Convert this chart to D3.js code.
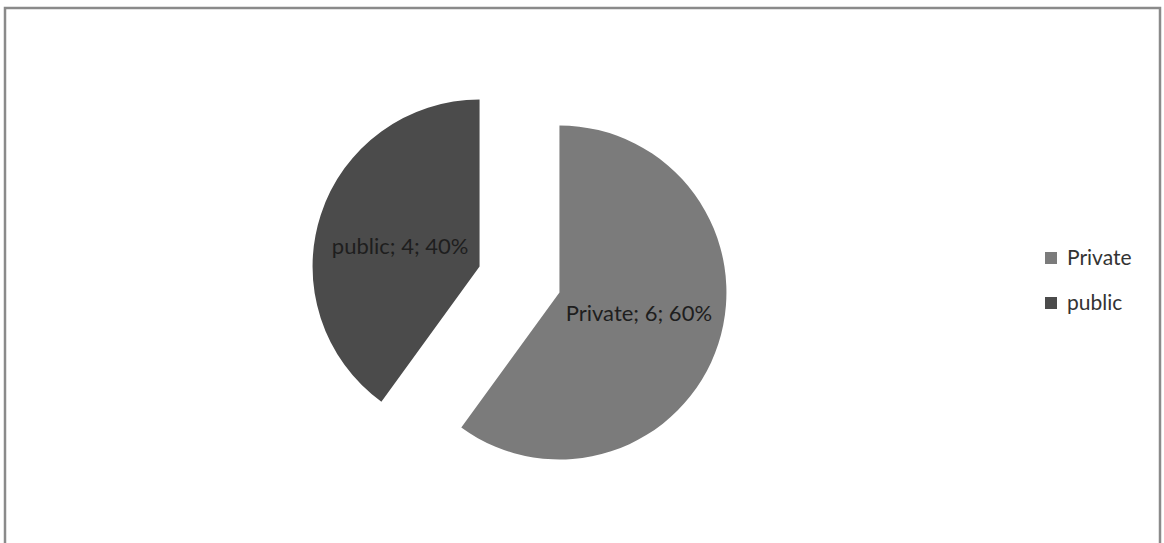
<!DOCTYPE html>
<html>
<head>
<meta charset="utf-8">
<script src="https://cdn.jsdelivr.net/npm/d3@7"></script>
<style>
  html, body { margin: 0; padding: 0; background: #fff; }
  svg { display: block; }
</style>
</head>
<body>
<svg id="chart" width="1164" height="543"></svg>
<script>
const categories = ["Private", "public"];
const values = [6, 4];
const percents = ["60%", "40%"];
const colors = ["#7b7b7b", "#4b4b4b"];

const svg = d3.select("#chart");

// frame
svg.append("rect").attr("x", 5).attr("y", 8).attr("width", 1155).attr("height", 560)
  .attr("fill", "#fff").attr("stroke", "#8a8a8a").attr("stroke-width", 2.5);

const cx = 519.5, cy = 279.5, R = 167, explode = 42;

const pie = d3.pie().sort(null).value(d => d.value);
const data = pie(categories.map((c, i) => ({ cat: c, value: values[i], pct: percents[i], color: colors[i] })));
const arc = d3.arc().innerRadius(0).outerRadius(R);

const g = svg.append("g").attr("transform", `translate(${cx},${cy})`);

const slices = g.selectAll("g.slice").data(data).join("g")
  .attr("class", "slice")
  .attr("transform", d => {
    const a = (d.startAngle + d.endAngle) / 2;
    return `translate(${Math.sin(a) * explode},${-Math.cos(a) * explode})`;
  });

slices.append("path").attr("d", arc).attr("fill", d => d.data.color);

// best-fit style label position inside each slice
slices.append("text")
  .attr("transform", d => {
    const a = (d.startAngle + d.endAngle) / 2;
    return `translate(${Math.sin(a) * R * 0.5},${-Math.cos(a) * R * 0.4})`;
  })
  .attr("text-anchor", "middle")
  .attr("dy", "0.35em")
  .attr("font-family", "Lato, 'Open Sans', sans-serif")
  .attr("font-size", 22)
  .attr("fill", "#1e1e1e")
  .text(d => `${d.data.cat}; ${d.data.value}; ${d.data.pct}`);

// legend
const legend = svg.append("g").attr("transform", "translate(1045,252)");
const items = legend.selectAll("g").data(categories).join("g")
  .attr("transform", (d, i) => `translate(0,${i * 45})`);
items.append("rect").attr("width", 12).attr("height", 12).attr("y", 0)
  .attr("fill", (d, i) => colors[i]);
items.append("text").attr("x", 22).attr("y", 13)
  .attr("font-family", "Lato, 'Open Sans', sans-serif")
  .attr("font-size", 21).attr("fill", "#333")
  .text(d => d);
</script>
</body>
</html>
